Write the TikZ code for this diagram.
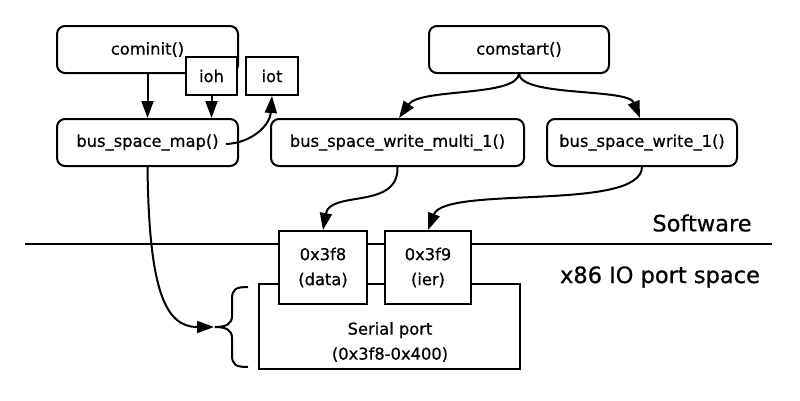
\documentclass[tikz,border=0pt]{standalone}
\usepackage{fontspec}
\setmainfont[FakeBold=0.6]{DejaVu Sans}
\usetikzlibrary{arrows.meta}
\begin{document}
\begin{tikzpicture}[x=1pt,y=-1pt,line width=2pt,
  fn/.style={draw,fill=white,rounded corners=8pt,minimum height=47pt,inner sep=0pt,font=\fontsize{16.3}{19}\selectfont},
  sq/.style={draw,fill=white,inner sep=0pt,align=center,font=\fontsize{16.3}{25}\selectfont},
  arr/.style={-{Triangle[length=17pt,width=12pt]}},
  lbl/.style={inner sep=0pt,font=\fontsize{22.5}{27}\selectfont}]
\useasboundingbox (0,0) rectangle (800,400);
% software / hardware separator
\coordinate (L) at (25,244);
\coordinate (R) at (772,244);
\draw (L) -- (R);
% function boxes
\node[fn,minimum width=181pt] (cominit) at (147.5,49.5) {cominit()};
\node[sq,minimum width=51pt,minimum height=38pt] (ioh) at (211.5,76) {ioh};
\node[sq,minimum width=52pt,minimum height=38pt] (iot) at (272,76) {iot};
\node[fn,minimum width=181pt] (map) at (147.5,142.5) {bus\_space\_map()};
\node[fn,minimum width=180pt] (comstart) at (519,49.5) {comstart()};
\node[fn,minimum width=253pt] (multi) at (397.5,142.5) {bus\_space\_write\_multi\_1()};
\node[fn,minimum width=190pt] (write) at (642,142.5) {bus\_space\_write\_1()};
% IO port space
\node[draw,minimum width=261pt,minimum height=85pt,inner sep=0pt] (serial) at (389.5,326.5) {};
\node[inner sep=0pt,align=center,font=\fontsize{16.3}{25}\selectfont] (serialtxt) at (390,342) {Serial port\\(0x3f8-0x400)};
\node[sq,minimum width=88pt,minimum height=73pt] (p8) at (323,267.5) {0x3f8\\(data)};
\node[sq,minimum width=86pt,minimum height=73pt] (p9) at (428,267.5) {0x3f9\\(ier)};
\node[lbl] (sw) at (702,223) {Software};
\node[lbl] (io) at (660,277) {x86 IO port space};
% brace
\coordinate (btop) at (248,287);
\coordinate (bbot) at (248,367);
\coordinate (btip) at (215,327);
\coordinate (atip) at (214,327);
\draw (btop) .. controls (236,287) and (232,289) .. (232,299) -- (232,316)
      .. controls (232,324) and (226,327) .. (btip)
      .. controls (226,327) and (232,330) .. (232,338) -- (232,355)
      .. controls (232,365) and (236,367) .. (bbot);
% connectors
\draw[arr] (cominit.south) -- (map.north);
\draw[arr] (ioh.south) -- (ioh.south |- map.north);
\coordinate (mapend) at (226,144);
\draw[arr] (mapend) .. controls (252,143) and (270,125) .. (iot.south);
\draw[arr] (comstart.south) .. controls (516,97) and (420,88) .. ([xshift=1.5pt]multi.north);
\draw[arr] (comstart.south) .. controls (522,97) and (628,88) .. ([xshift=-2pt]write.north);
\draw[arr] (multi.south) .. controls (399,210) and (330,190) .. (p8.north);
\draw[arr] (write.south) .. controls (641,212) and (445,185) .. (p9.north);
\draw[arr] (map.south) .. controls (149,290) and (165,327) .. (atip);
\end{tikzpicture}
\end{document}
